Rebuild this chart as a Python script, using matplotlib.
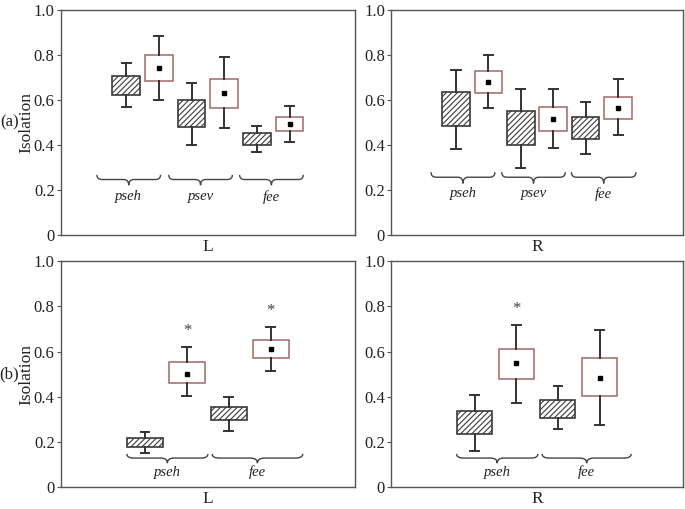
import matplotlib
matplotlib.use("Agg")
import matplotlib.pyplot as plt
from matplotlib.path import Path
from matplotlib.patches import PathPatch

plt.rcParams['font.family'] = ['Liberation Serif', 'DejaVu Serif']

# box statistics: whisker low, q1, mean, q3, whisker high
# (a) L
a_L_hatch = [[0.570, 0.625, 0.708, 0.763], [0.400, 0.481, 0.600, 0.677], [0.369, 0.399, 0.452, 0.487]]
a_L_open = [[0.600, 0.683, 0.741, 0.799, 0.886], [0.477, 0.566, 0.633, 0.696, 0.790], [0.416, 0.461, 0.496, 0.527, 0.575]]
# (a) R
a_R_hatch = [[0.384, 0.484, 0.636, 0.733], [0.299, 0.401, 0.550, 0.649], [0.360, 0.428, 0.523, 0.594]]
a_R_open = [[0.563, 0.633, 0.681, 0.730, 0.803], [0.388, 0.465, 0.517, 0.570, 0.650], [0.443, 0.516, 0.567, 0.616, 0.692]]
# (b) L
b_L_hatch = [[0.150, 0.178, 0.216, 0.244], [0.250, 0.295, 0.356, 0.398]]
b_L_open = [[0.401, 0.459, 0.501, 0.552, 0.619], [0.514, 0.570, 0.610, 0.649, 0.707]]
# (b) R
b_R_hatch = [[0.162, 0.233, 0.336, 0.409], [0.258, 0.305, 0.387, 0.446]]
b_R_open = [[0.373, 0.477, 0.548, 0.613, 0.719], [0.277, 0.401, 0.485, 0.570, 0.695]]

groups_a = ['pseh', 'psev', 'fee']
groups_b = ['pseh', 'fee']
b_L_star = [True, True]
b_R_star = [True, False]

hatch_edge = '#3a3a3a'
open_edge = '#a06868'
whisk_col = '#333333'


def brace(ax, x0, x1, ytop, ybot, col='#444444'):
    xm = (x0 + x1) / 2
    ymid = (ytop + ybot) / 2 + (ytop - ybot) * 0.05
    w = (x1 - x0)
    verts = [(x0, ytop), (x0, ymid), (x0 + w * 0.08, ymid),
             (xm - w * 0.08, ymid), (xm, ymid), (xm, ybot),
             (xm, ymid), (xm + w * 0.08, ymid),
             (x1 - w * 0.08, ymid), (x1, ymid), (x1, ytop)]
    codes = [Path.MOVETO, Path.CURVE3, Path.CURVE3,
             Path.LINETO, Path.CURVE3, Path.CURVE3,
             Path.CURVE3, Path.CURVE3,
             Path.LINETO, Path.CURVE3, Path.CURVE3]
    ax.add_patch(PathPatch(Path(verts, codes), fill=False, ec=col, lw=1.0))


def panel(ax, hatch, opn, names, stars, capw, bw, brace_spans, by, xlab, tag):
    n = len(names)
    stats, pos, hatched = [], [], []
    for i in range(n):
        lo, q1, q3, hi = hatch[i]
        stats.append(dict(whislo=lo, q1=q1, med=(q1 + q3) / 2, q3=q3, whishi=hi, mean=(q1 + q3) / 2))
        pos.append(2 * i + 1)
        hatched.append(True)
        lo, q1, mn, q3, hi = opn[i]
        stats.append(dict(whislo=lo, q1=q1, med=mn, q3=q3, whishi=hi, mean=mn))
        pos.append(2 * i + 2)
        hatched.append(False)
    bp = ax.bxp(stats, positions=pos, widths=bw, patch_artist=True, showfliers=False,
                showmeans=False, capwidths=capw,
                medianprops=dict(linewidth=0),
                whiskerprops=dict(color=whisk_col, lw=1.4),
                capprops=dict(color=whisk_col, lw=1.4))
    for box, h, s, p in zip(bp['boxes'], hatched, stats, pos):
        if h:
            box.set(facecolor='white', edgecolor=hatch_edge, hatch='//////', lw=1.2)
        else:
            box.set(facecolor='white', edgecolor=open_edge, lw=1.1)
            ax.plot(p, s['mean'], marker='s', ms=3.5, color='black', ls='none')
    for i, name in enumerate(names):
        x0, x1 = brace_spans[i]
        brace(ax, x0, x1, by[0], by[1])
        ax.text((x0 + x1) / 2, by[2], name, style='italic', fontsize=10.5,
                ha='center', va='center', color='#222222')
        if stars is not None and stars[i]:
            ax.text(2 * i + 2, opn[i][4] + 0.035, '*', ha='center', va='bottom',
                    fontsize=12, color='#444444')
    ax.set_xlim(-1, 2 * n + 2)
    ax.set_ylim(0, 1.0)
    ax.set_yticks([0, 0.2, 0.4, 0.6, 0.8, 1.0])
    ax.set_yticklabels(['0', '0.2', '0.4', '0.6', '0.8', '1.0'])
    ax.set_xticks([])
    ax.tick_params(axis='y', direction='out', length=3, width=0.8, pad=1.5,
                   labelsize=12, colors='#555555', labelcolor='#222222')
    for sp in ax.spines.values():
        sp.set_color('#555555')
        sp.set_linewidth(1.0)
    ax.set_xlabel(xlab, fontsize=12.5, labelpad=3, color='#222222')
    if tag:
        ax.set_ylabel('Isolation', fontsize=12.5, color='#222222')
        ax.yaxis.set_label_coords(-0.09, 0.5)
        ax.text(-0.175, 0.5, tag, transform=ax.transAxes, fontsize=12,
                ha='center', va='center', color='#222222')


plt.rcParams['hatch.color'] = hatch_edge
plt.rcParams['hatch.linewidth'] = 0.8

fig = plt.figure(figsize=(6.85, 5.09), dpi=100)
ax1 = fig.add_axes([0.089, 0.538, 0.429, 0.442])
ax2 = fig.add_axes([0.571, 0.538, 0.426, 0.442])
ax3 = fig.add_axes([0.089, 0.043, 0.429, 0.444])
ax4 = fig.add_axes([0.571, 0.043, 0.426, 0.444])

panel(ax1, a_L_hatch, a_L_open, groups_a, None, 0.28, 0.85,
      [(0.1, 2.05), (2.3, 4.25), (4.47, 6.42)], (0.268, 0.222, 0.17), 'L', '(a)')
panel(ax2, a_R_hatch, a_R_open, groups_a, None, 0.28, 0.85,
      [(0.23, 2.2), (2.41, 4.37), (4.56, 6.55)], (0.28, 0.23, 0.183), 'R', None)
panel(ax3, b_L_hatch, b_L_open, groups_b, b_L_star, 0.21, 0.84,
      [(0.57, 2.5), (2.6, 4.76)], (0.147, 0.106, 0.065), 'L', '(b)')
panel(ax4, b_R_hatch, b_R_open, groups_b, b_R_star, 0.21, 0.84,
      [(0.57, 2.52), (2.62, 4.76)], (0.147, 0.106, 0.065), 'R', None)

fig.savefig('out.png', dpi=100)
